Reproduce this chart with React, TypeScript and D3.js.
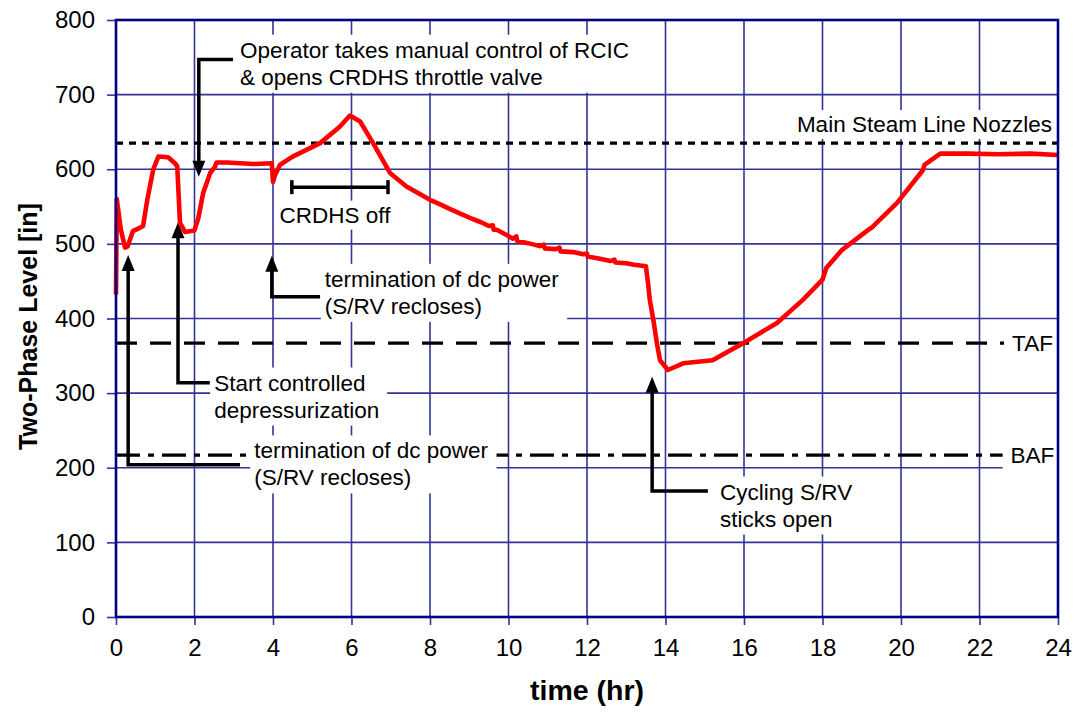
import { useEffect, useRef } from "react";
import * as d3 from "d3";

// two-phase level trace
const TIME_HR = [
  0, 0.02, 0.12, 0.23, 0.3, 0.43, 0.55, 0.69, 0.8, 0.95, 1.08, 1.33, 1.5, 1.56, 1.63,
  1.76, 2.0, 2.1, 2.22, 2.4, 2.52, 2.56, 2.83, 3.5, 3.97, 4.0, 4.05, 4.18, 4.5, 5.2,
  5.7, 5.96, 6.22, 6.55, 6.98, 7.4, 8.0, 8.3, 8.5, 8.8, 9.1, 9.3, 9.5, 9.6, 9.62, 9.7,
  9.95, 10.1, 10.2, 10.22, 10.5, 10.8, 10.9, 10.92, 11.2, 11.3, 11.32, 11.65, 11.9,
  12.0, 12.02, 12.33, 12.6, 12.7, 12.72, 13.0, 13.2, 13.5, 13.55, 13.6, 13.7, 13.78,
  13.86, 14.06, 14.45, 15.2, 15.98, 16.84, 17.5, 18.0, 18.1, 18.5, 19.2, 19.26, 19.9,
  20.56, 20.6, 21.0, 21.7, 22.5, 23.3, 24,
];
const LEVEL_IN = [
  432, 560, 520, 495, 497, 517, 520, 524, 560, 600, 617, 616, 608, 604, 528,
  516, 518, 535, 568, 595, 603, 609, 609, 607, 608, 583, 592, 606, 617, 635,
  657, 672, 664, 635, 595, 577, 559, 552, 547, 540, 533, 529, 524, 525, 519, 519,
  512, 507, 510, 504, 501, 497, 499, 494, 493, 495, 490, 489, 486,
  487, 483, 480, 477, 479, 475, 474, 472, 470, 450, 425, 395, 367,
  344, 331, 340, 344, 367, 394, 425, 452, 468, 492, 520, 522, 555,
  599, 606, 621, 621, 620, 621, 619,
];

const X_TICKS = [0, 2, 4, 6, 8, 10, 12, 14, 16, 18, 20, 22, 24];
const Y_TICKS = [0, 100, 200, 300, 400, 500, 600, 700, 800];

const REF_NAMES = ["Main Steam Line Nozzles", "TAF", "BAF"];
const REF_LEVELS = [635, 367, 217];

const W = 1075;
const H = 715;
const M = { top: 20, right: 17, bottom: 98, left: 116 };
const FONT = "'Liberation Sans', Arial, Helvetica, sans-serif";
const GRID = "#333399";
const FRAME = "#000080";

// callouts: arrow tip, elbow level, elbow end, text anchor (data units)
const CALLOUTS = [
  { lines: ["Operator takes manual control of RCIC", "& opens CRDHS throttle valve"], tip: [2.11, 590], elbow: 747, end: 2.98, dir: "down", text: [3.16, 760] },
  { lines: ["termination of dc power", "(S/RV recloses)"], tip: [3.97, 484], elbow: 429, end: 5.2, dir: "up", text: [5.32, 453] },
  { lines: ["Start controlled", "depressurization"], tip: [1.58, 529], elbow: 314, end: 2.39, dir: "up", text: [2.5, 314] },
  { lines: ["termination of dc power", "(S/RV recloses)"], tip: [0.31, 485], elbow: 204, end: 3.16, dir: "up", text: [3.52, 223] },
  { lines: ["Cycling S/RV", "sticks open"], tip: [13.66, 322], elbow: 169, end: 15.08, dir: "up", text: [15.39, 168] },
];

export default function App() {
  const ref = useRef<SVGSVGElement | null>(null);

  useEffect(() => {
    document.body.style.margin = "0";
    const svg = d3.select(ref.current);
    svg.selectAll("*").remove();

    const x = d3.scaleLinear().domain([0, 24]).range([M.left, W - M.right]);
    const y = d3.scaleLinear().domain([0, 800]).range([H - M.bottom, M.top]);

    svg.append("rect").attr("width", W).attr("height", H).attr("fill", "#fff");

    // grid
    const grid = svg.append("g").attr("stroke", GRID).attr("stroke-width", 1.6);
    grid.selectAll("line.v").data(X_TICKS).join("line")
      .attr("x1", (d) => x(d)).attr("x2", (d) => x(d))
      .attr("y1", y(0)).attr("y2", y(800));
    grid.selectAll("line.h").data(Y_TICKS).join("line")
      .attr("class", "h")
      .attr("x1", x(0)).attr("x2", x(24))
      .attr("y1", (d) => y(d)).attr("y2", (d) => y(d));

    // axes
    const xAxis = svg.append("g").attr("transform", `translate(0,${y(0)})`)
      .call(d3.axisBottom(x).tickValues(X_TICKS).tickSize(8).tickPadding(14).tickFormat(d3.format("d")));
    const yAxis = svg.append("g").attr("transform", `translate(${x(0)},0)`)
      .call(d3.axisLeft(y).tickValues(Y_TICKS).tickSize(9).tickPadding(12).tickFormat(d3.format("d")));
    for (const ax of [xAxis, yAxis]) {
      ax.select(".domain").remove();
      ax.selectAll(".tick line").attr("stroke", GRID).attr("stroke-width", 1.6);
      ax.selectAll(".tick text").attr("font-family", FONT).attr("font-size", 24).attr("fill", "#000");
    }

    // reference levels
    const dashes = ["7,6", "21,13", "24,8,6,8"];
    svg.append("g").selectAll("line").data(REF_LEVELS).join("line")
      .attr("x1", x(0)).attr("x2", x(24))
      .attr("y1", (d) => y(d)).attr("y2", (d) => y(d))
      .attr("stroke", "#000").attr("stroke-width", 3.2)
      .attr("stroke-dasharray", (_, i) => dashes[i]);

    const boxed = (lines: string[], tx: number, ty: number, anchor: string, lh: number, pad: number[]) => {
      const g = svg.append("g");
      const t = g.append("text").attr("font-family", FONT).attr("font-size", 22.5)
        .attr("fill", "#000").attr("text-anchor", anchor);
      lines.forEach((s, i) => {
        t.append("tspan").attr("x", tx).attr("y", ty + i * lh).attr("dy", "0.35em").text(s);
      });
      const b = (t.node() as SVGTextElement).getBBox();
      g.insert("rect", "text")
        .attr("x", b.x - pad[0]).attr("y", b.y - pad[1])
        .attr("width", b.width + pad[0] + pad[2]).attr("height", b.height + pad[1] + pad[3])
        .attr("fill", "#fff");
    };

    // reference level labels
    boxed([REF_NAMES[0]], x(24) - 6, y(REF_LEVELS[0]) - 19, "end", 0, [6, 2, 6, 2]);
    boxed([REF_NAMES[1]], x(23.35), y(REF_LEVELS[1]), "middle", 0, [8, 2, 8, 2]);
    boxed([REF_NAMES[2]], x(23.35), y(REF_LEVELS[2]), "middle", 0, [8, 2, 8, 2]);

    // CRDHS off bar
    const bar = svg.append("g").attr("stroke", "#000").attr("stroke-width", 3.5);
    bar.append("line").attr("x1", x(4.48)).attr("x2", x(6.93)).attr("y1", y(576)).attr("y2", y(576));
    bar.append("line").attr("x1", x(4.48)).attr("x2", x(4.48)).attr("y1", y(576) - 7).attr("y2", y(576) + 7);
    bar.append("line").attr("x1", x(6.93)).attr("x2", x(6.93)).attr("y1", y(576) - 7).attr("y2", y(576) + 7);
    boxed(["CRDHS off"], x(5.58), y(539), "middle", 0, [4, 2, 4, 2]);

    // callouts
    for (const c of CALLOUTS) {
      boxed(c.lines, x(c.text[0]), y(c.text[1]), "start", 27, [4, 3, 8, 3]);
      const tx = x(c.tip[0]);
      const ty = y(c.tip[1]);
      const s = c.dir === "up" ? 1 : -1;
      const head = 15;
      svg.append("path")
        .attr("d", `M${x(c.end)},${y(c.elbow)}H${tx}V${ty + s * head}`)
        .attr("fill", "none").attr("stroke", "#000").attr("stroke-width", 3.5);
      svg.append("path")
        .attr("d", `M${tx},${ty}L${tx - 6.5},${ty + s * (head + 1)}L${tx + 6.5},${ty + s * (head + 1)}Z`)
        .attr("fill", "#000");
    }

    // level trace
    const pts = TIME_HR.map((t, i) => [t, LEVEL_IN[i]] as [number, number]);
    svg.append("path")
      .attr("d", d3.line().x((d) => x(d[0])).y((d) => y(d[1]))(pts) ?? "")
      .attr("fill", "none").attr("stroke", "#ff0000").attr("stroke-width", 4.6)
      .attr("stroke-linejoin", "round");

    // frame
    svg.append("rect")
      .attr("x", x(0)).attr("y", y(800))
      .attr("width", x(24) - x(0)).attr("height", y(0) - y(800))
      .attr("fill", "none").attr("stroke", FRAME).attr("stroke-width", 2.6);

    // axis titles
    svg.append("text").attr("x", (x(0) + x(24)) / 2).attr("y", 690).attr("dy", "0.35em")
      .attr("text-anchor", "middle").attr("font-family", FONT).attr("font-weight", "bold")
      .attr("font-size", 28.5).text("time (hr)");
    svg.append("text").attr("transform", `translate(28,${(y(0) + y(800)) / 2 + 8}) rotate(-90)`)
      .attr("dy", "0.35em").attr("text-anchor", "middle").attr("font-family", FONT)
      .attr("font-weight", "bold").attr("font-size", 25).text("Two-Phase Level [in]");
  }, []);

  return <svg ref={ref} width={W} height={H} style={{ display: "block" }} />;
}
